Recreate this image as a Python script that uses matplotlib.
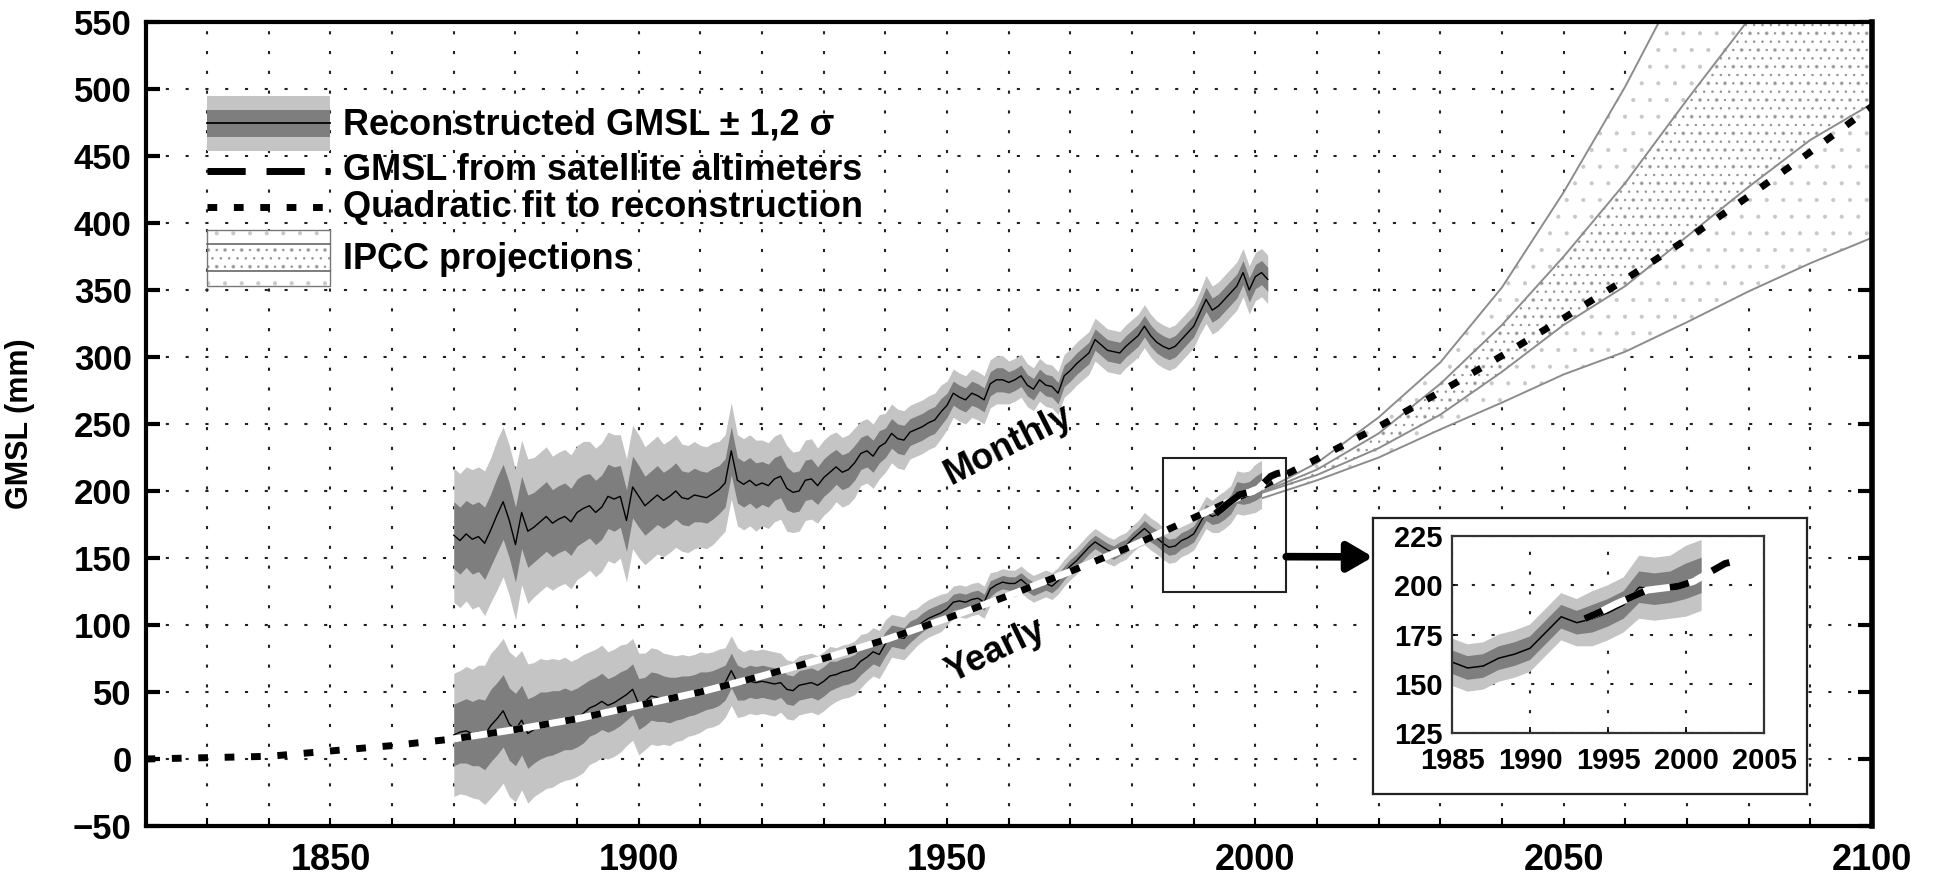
import numpy as np
import matplotlib
matplotlib.use("Agg")
import matplotlib.pyplot as plt
from matplotlib.patches import Rectangle
from matplotlib.lines import Line2D
from matplotlib.ticker import MultipleLocator, FuncFormatter
from matplotlib.transforms import blended_transform_factory

plt.rcParams['font.family'] = ['Liberation Sans', 'DejaVu Sans']
plt.rcParams['font.weight'] = 'bold'
plt.rcParams['hatch.linewidth'] = 0.5

# ---------------- data ----------------
monthly_years = list(range(1870, 2003))
monthly_gmsl = [
    167, 163, 168, 164, 166, 161, 171, 182, 192, 178,
    160, 184, 170, 173, 177, 181, 176, 179, 181, 177,
    184, 187, 189, 184, 188, 196, 194, 196, 178, 203,
    196, 189, 193, 197, 193, 196, 200, 195, 194, 197,
    196, 195, 198, 201, 206, 230, 208, 205, 208, 204,
    206, 204, 209, 211, 202, 199, 200, 208, 209, 204,
    210, 214, 218, 214, 216, 221, 228, 230, 226, 233,
    236, 243, 239, 238, 244, 246, 248, 251, 253, 259,
    264, 273, 270, 268, 273, 271, 268, 280, 283, 283,
    281, 283, 286, 279, 276, 283, 279, 278, 273, 286,
    290, 295, 299, 303, 313, 309, 305, 304, 303, 308,
    312, 316, 323, 316, 311, 308, 306, 308, 313, 318,
    323, 333, 343, 335, 338, 343, 348, 353, 363, 350,
    360, 363, 358]
monthly_sigma = [
    25, 25, 25, 26, 26, 27, 27, 28, 28, 28,
    28, 27, 27, 26, 26, 26, 25, 25, 25, 25,
    25, 25, 24, 24, 24, 24, 24, 23, 23, 23,
    23, 22, 22, 22, 21, 21, 21, 20, 20, 20,
    19, 19, 19, 18, 18, 18, 17, 17, 17, 17,
    16, 16, 16, 16, 16, 15, 15, 15, 15, 14,
    14, 14, 13, 13, 13, 13, 12, 12, 12, 12,
    11, 11, 11, 11, 10, 10, 10, 10, 10, 10,
    9, 9, 9, 9, 9, 9, 9, 9, 9, 9,
    8, 8, 8, 8, 8, 8, 8, 8, 8, 8,
    8, 8, 8, 8, 8, 8, 8, 8, 8, 8,
    8, 8, 8, 8, 8, 8, 8, 8, 8, 8,
    8, 8, 9, 9, 9, 9, 9, 9, 9, 9,
    9, 9, 9]

yearly_years = list(range(1870, 2002))
yearly_gmsl = [
    18, 20, 21, 19, 20, 18, 25, 30, 36, 26,
    22, 29, 19, 22, 25, 26, 27, 28, 30, 29,
    31, 34, 38, 40, 43, 40, 42, 45, 48, 52,
    41, 43, 47, 46, 45, 44, 45, 46, 47, 48,
    50, 51, 52, 54, 57, 66, 57, 56, 58, 57,
    58, 57, 56, 57, 52, 51, 55, 56, 57, 55,
    58, 62, 63, 65, 66, 68, 73, 76, 80, 78,
    86, 92, 91, 90, 95, 98, 102, 105, 107, 109,
    112, 117, 118, 117, 119, 120, 117, 127, 130, 132,
    131, 131, 134, 130, 127, 129, 131, 129, 133, 139,
    144, 148, 153, 158, 162, 159, 156, 154, 157, 159,
    164, 168, 172, 168, 165, 161, 158, 159, 163, 165,
    168, 176, 184, 181, 183, 186, 190, 199, 198, 199,
    202, 205]
yearly_sigma = [
    23, 23, 24, 24, 25, 26, 27, 27, 27, 27,
    27, 26, 26, 25, 25, 24, 24, 23, 23, 22,
    22, 22, 21, 21, 21, 20, 20, 20, 19, 19,
    19, 18, 18, 18, 17, 17, 16, 16, 15, 15,
    15, 14, 14, 14, 13, 13, 13, 12, 12, 12,
    12, 12, 12, 11, 11, 11, 11, 11, 11, 11,
    11, 11, 10, 10, 10, 10, 10, 9, 9, 9,
    9, 8, 8, 8, 8, 7, 7, 7, 7, 7,
    6, 6, 6, 6, 6, 6, 6, 6, 5, 5,
    5, 5, 5, 5, 5, 5, 5, 5, 5, 5,
    5, 5, 5, 5, 5, 5, 5, 5, 5, 5,
    5, 5, 6, 6, 6, 6, 6, 6, 6, 6,
    6, 6, 6, 6, 7, 7, 7, 8, 8, 8,
    9, 9]

quad_years = list(range(1820, 2101, 10))
quad_gmsl = [0, 1, 2, 6, 10, 15, 22, 30, 40, 50, 62, 75, 89, 105, 122,
             140, 159, 180, 201, 224, 248, 274, 301, 329, 358, 388, 420, 453, 487]

sat_years = [1993.5, 1994.5, 1995.5, 1996.5, 1997.5, 1998.5, 1999.5,
             2000.5, 2001.5, 2002.5, 2003.5, 2004.0]
sat_gmsl = [183, 186.5, 190.5, 194, 197.5, 198.5, 199.5, 202, 206.5, 211, 213, 213.5]

ipcc_years = list(range(2000, 2101, 10))
ipcc_high = [197, 221, 255, 296, 352, 423, 502, 590, 680, 780, 880]
ipcc_mid_high = [197, 216, 243, 280, 324, 375, 430, 492, 552, 615, 680]
ipcc_mid_low = [197, 212, 232, 257, 289, 324, 353, 390, 427, 462, 489]
ipcc_low = [193, 208, 225, 246, 266, 287, 304, 326, 349, 370, 389]

legend_labels = ["Reconstructed GMSL \u00b1 1,2 \u03c3", "GMSL from satellite altimeters",
                 "Quadratic fit to reconstruction", "IPCC projections"]

# ---------------- styles ----------------
LIGHT = '#c4c4c4'
DARK = '#7e7e7e'
IPCC_C = '#8c8c8c'
SPARSE_C = '#c8c8c8'
DENSE_C = '#8e8e8e'
GRID_LS = (0, (1.5, 8))
QUAD_LS = (0, (1.4, 2.4))
SAT_LS = (0, (5.5, 3))
W, H = 1934, 876

fig = plt.figure(figsize=(W / 100, H / 100), dpi=100)
fig.patch.set_facecolor('white')
ax = fig.add_axes([145.5 / W, 1 - 826 / H, 1726.5 / W, 804 / H])
ax.set_xlim(1820, 2100)
ax.set_ylim(-50, 550)
ax.set_axisbelow(True)

my = np.array(monthly_years, float)
mg = np.array(monthly_gmsl, float)
ms = np.array(monthly_sigma, float)
yy = np.array(yearly_years, float)
yg = np.array(yearly_gmsl, float)
ys = np.array(yearly_sigma, float)
qy = np.array(quad_years, float)
qg = np.array(quad_gmsl, float)

# IPCC projections
ax.fill_between(ipcc_years, ipcc_low, ipcc_high, facecolor='white', edgecolor=SPARSE_C,
                hatch='.', linewidth=0, zorder=1)
ax.fill_between(ipcc_years, ipcc_mid_low, ipcc_mid_high, facecolor='none', edgecolor=DENSE_C,
                hatch='..', linewidth=0, zorder=1.1)
for arr in (ipcc_high, ipcc_mid_high, ipcc_mid_low, ipcc_low):
    ax.plot(ipcc_years, arr, color=IPCC_C, lw=1.4, zorder=1.5)

# Monthly reconstruction
ax.fill_between(my, mg - 2 * ms, mg + 2 * ms, color=LIGHT, lw=0, zorder=2)
ax.fill_between(my, mg - ms, mg + ms, color=DARK, lw=0, zorder=2.1)
ax.plot(my, mg, color='k', lw=1.0, zorder=2.2)

# Yearly reconstruction
ax.fill_between(yy, yg - 2 * ys, yg + 2 * ys, color=LIGHT, lw=0, zorder=2)
ax.fill_between(yy, yg - ys, yg + ys, color=DARK, lw=0, zorder=2.1)
ax.plot(yy, yg, color='k', lw=1.0, zorder=2.2)

# Quadratic fit
m = (qy >= 1870) & (qy <= 2000)
ax.plot(qy[m], qg[m], color='white', lw=5, solid_capstyle='butt', zorder=3)
ax.plot(qy, qg, color='k', lw=5, linestyle=QUAD_LS, dash_capstyle='butt', zorder=3.1)

# Satellite altimetry
ax.plot(sat_years, sat_gmsl, color='white', lw=5, solid_capstyle='butt', zorder=3.2)
ax.plot(sat_years, sat_gmsl, color='k', lw=5, linestyle=SAT_LS, dash_capstyle='butt', zorder=3.3)

# zoom box
ax.add_patch(Rectangle((1985, 125), 20, 100, fill=False, edgecolor='#222222', lw=1.5, zorder=8))

# labels
ax.text(1960, 234, 'Monthly', rotation=27, fontsize=26, fontweight='bold',
        ha='center', va='center', rotation_mode='anchor', zorder=9)
ax.text(1957.8, 81, 'Yearly', rotation=26, fontsize=26, fontweight='bold',
        ha='center', va='center', rotation_mode='anchor', zorder=9)

# axes formatting
ax.xaxis.set_major_locator(MultipleLocator(10))
ax.xaxis.set_major_formatter(FuncFormatter(lambda v, p: '%d' % v if int(round(v)) % 50 == 0 and v > 1820 else ''))
ax.yaxis.set_major_locator(MultipleLocator(50))
ax.grid(True, color='#222222', linestyle=GRID_LS, linewidth=1.5)
ax.tick_params(axis='x', direction='in', length=6, width=1.5, labelsize=26, pad=12)
ax.tick_params(axis='y', direction='in', length=10, width=3, labelsize=25, pad=10, right=True)
for t in ax.get_xticklabels() + ax.get_yticklabels():
    t.set_fontweight('bold')
for name, sp in ax.spines.items():
    sp.set_linewidth(4 if name == 'right' else 3)
    sp.set_zorder(10)
ax.set_ylabel('GMSL (mm)', fontsize=22, fontweight='bold')
ax.yaxis.set_label_coords(-0.064, 0.5)

# ---------------- legend (drawn manually, no frame) ----------------
bt = blended_transform_factory(ax.transData, ax.transAxes)
hx0, hw = 1830, 20
ax.add_patch(Rectangle((hx0, 0.8396), hw, 0.0684, transform=bt, facecolor=LIGHT, edgecolor='none', zorder=6))
ax.add_patch(Rectangle((hx0, 0.8570), hw, 0.0335, transform=bt, facecolor=DARK, edgecolor='none', zorder=6.1))
ax.add_line(Line2D([hx0, hx0 + hw], [0.874, 0.874], transform=bt, color='k', lw=1.3, zorder=6.2))
ax.add_line(Line2D([hx0, hx0 + hw], [0.8147, 0.8147], transform=bt, color='k', lw=5,
                   linestyle=SAT_LS, dash_capstyle='butt', zorder=6.2))
ax.add_line(Line2D([hx0, hx0 + hw], [0.770, 0.770], transform=bt, color='k', lw=5,
                   linestyle=QUAD_LS, dash_capstyle='butt', zorder=6.2))
ax.add_patch(Rectangle((hx0, 0.6716), hw, 0.0697, transform=bt, facecolor='white', edgecolor=SPARSE_C,
                       hatch='.', lw=0, zorder=6))
ax.add_patch(Rectangle((hx0, 0.6716), hw, 0.0697, transform=bt, facecolor='none', edgecolor='#777777',
                       lw=1.0, zorder=6.1))
ax.add_patch(Rectangle((hx0, 0.6903), hw, 0.0336, transform=bt, facecolor='none', edgecolor=DENSE_C,
                       hatch='..', lw=0, zorder=6.05))
for yl in (0.6903, 0.7239):
    ax.add_line(Line2D([hx0, hx0 + hw], [yl, yl], transform=bt, color='#666666', lw=1.2, zorder=6.2))
for lab, yv in zip(legend_labels, [0.8725, 0.8150, 0.7690, 0.7050]):
    ax.text(1852.0, yv, lab, transform=bt, fontsize=26, fontweight='bold', va='center', ha='left', zorder=7)

# ---------------- inset ----------------
frame = fig.add_axes([1373 / W, 1 - 794 / H, 434 / W, 276 / H])
frame.set_facecolor('white')
frame.set_xticks([])
frame.set_yticks([])
for sp in frame.spines.values():
    sp.set_linewidth(1.6)
    sp.set_color('#222222')

ins = fig.add_axes([1452 / W, 1 - 733 / H, 312 / W, 197 / H])
ins.set_xlim(1985, 2005)
ins.set_ylim(125, 225)
ins.set_axisbelow(True)
ins.fill_between(yy, yg - 2 * ys, yg + 2 * ys, color=LIGHT, lw=0, zorder=2)
ins.fill_between(yy, yg - ys, yg + ys, color=DARK, lw=0, zorder=2.1)
ins.plot(yy, yg, color='k', lw=1.1, zorder=2.2)
ins.plot(sat_years, sat_gmsl, color='white', lw=5, solid_capstyle='butt', zorder=3)
ins.plot(sat_years, sat_gmsl, color='k', lw=5, linestyle=(0, (2.8, 3.8)), dash_capstyle='butt', zorder=3.1)
ins.set_xticks(range(1985, 2006, 5))
ins.set_yticks(range(125, 226, 25))
ins.grid(True, color='#222222', linestyle=GRID_LS, linewidth=1.5)
ins.tick_params(axis='both', direction='in', length=4, width=1.2, labelsize=21)
ins.tick_params(axis='x', pad=10)
ins.tick_params(axis='y', pad=7)
for t in ins.get_xticklabels() + ins.get_yticklabels():
    t.set_fontweight('bold')
for sp in ins.spines.values():
    sp.set_linewidth(1.6)
    sp.set_color('#333333')

# arrow from zoom box to inset
ax.annotate('', xy=(0, 0.859), xycoords=frame.transAxes, xytext=(2005, 151), textcoords='data',
            arrowprops=dict(arrowstyle='-|>,head_length=0.6,head_width=0.35', lw=5.5, color='k',
                            shrinkA=0, shrinkB=0, mutation_scale=25),
            annotation_clip=False, zorder=9)

fig.savefig('out.png', dpi=100, facecolor='white')
